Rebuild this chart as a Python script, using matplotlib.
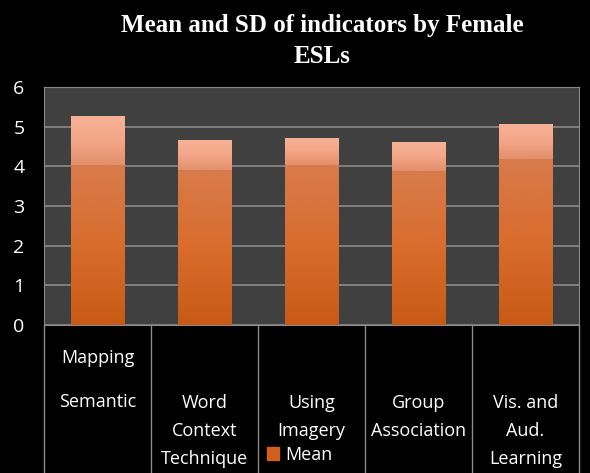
import matplotlib
matplotlib.use('Agg')
import matplotlib.pyplot as plt
import numpy as np
from matplotlib.colors import LinearSegmentedColormap
from matplotlib.lines import Line2D
from matplotlib.patches import Patch
from matplotlib.transforms import blended_transform_factory

# Datos
categorias = ["Mapping\nSemantic", "Word\nContext\nTechnique", "Using\nImagery",
              "Group\nAssociation", "Vis. and\nAud.\nLearning"]
media = [4.03, 3.90, 4.03, 3.88, 4.18]
desv = [1.23, 0.76, 0.69, 0.73, 0.88]

plt.rcParams['font.family'] = ['Liberation Sans Narrow', 'Open Sans', 'DejaVu Sans']

fig = plt.figure(figsize=(5.9, 4.73), dpi=100, facecolor='black')
ax = fig.add_axes([44 / 590, 1 - 325 / 473, (579 - 44) / 590, (325 - 87) / 473])
ax.set_facecolor('#404040')

x = np.arange(len(categorias))
ancho = 0.5
barras_m = ax.bar(x, media, ancho, color='#d0601c', zorder=3)
barras_s = ax.bar(x, desv, ancho, bottom=media, color='#f0a080', zorder=3)

# Degradados dentro de las barras
cmap_m = LinearSegmentedColormap.from_list('m', ['#c85a16', '#d86c2c', '#d87b4c'])
cmap_s = LinearSegmentedColormap.from_list('s', ['#e2906c', '#f4a688', '#f6b296'])
grad = np.linspace(0, 1, 256).reshape(-1, 1)
for b in barras_m:
    im = ax.imshow(grad, cmap=cmap_m, origin='lower', aspect='auto', zorder=4,
                   extent=[b.get_x(), b.get_x() + b.get_width(), b.get_y(), b.get_y() + b.get_height()])
    im.set_clip_path(b)
for b in barras_s:
    im = ax.imshow(grad, cmap=cmap_s, origin='lower', aspect='auto', zorder=4,
                   extent=[b.get_x(), b.get_x() + b.get_width(), b.get_y(), b.get_y() + b.get_height()])
    im.set_clip_path(b)

ax.set_xlim(-0.5, len(categorias) - 0.5)
ax.set_ylim(0, 6)
ax.set_yticks(range(7))
ax.grid(axis='y', color='#8a8a8a', linewidth=1.2, zorder=1)
ax.set_xticks([])
ax.tick_params(axis='y', length=0, pad=14, labelcolor='white', labelsize=14)
for s in ax.spines.values():
    s.set_color('#8a8a8a')

# Tabla de categorías debajo del eje
tr = blended_transform_factory(ax.transData, fig.transFigure)
for xi in np.arange(-0.5, len(categorias), 1.0):
    fig.add_artist(Line2D([xi, xi], [0, 1 - 325 / 473], transform=tr, color='#8a8a8a', lw=1))
for xi, cat in zip(x, categorias):
    if xi == 0:
        fig.text(xi, 1 - 380 / 473, cat, transform=tr, ha='center', va='center',
                 color='white', fontsize=13, linespacing=2.85)
    else:
        fig.text(xi, 1 - 394 / 473, cat, transform=tr, ha='center', va='top',
                 color='white', fontsize=13, linespacing=1.72)

# Leyenda
fig.legend(handles=[Patch(color='#d0601c', label='Mean')], loc='center',
           bbox_to_anchor=(300 / 590, 1 - 455 / 473), frameon=False,
           labelcolor='white', fontsize=13, handlelength=0.65, handleheight=0.75,
           handletextpad=0.35)

fig.text(322 / 590, 1 - 41 / 473, "Mean and SD of indicators by Female\nESLs",
         ha='center', va='center', color='white', fontsize=18, fontweight='bold',
         family='Liberation Serif', linespacing=1.45)

fig.savefig('out.png', dpi=100, facecolor='black')
